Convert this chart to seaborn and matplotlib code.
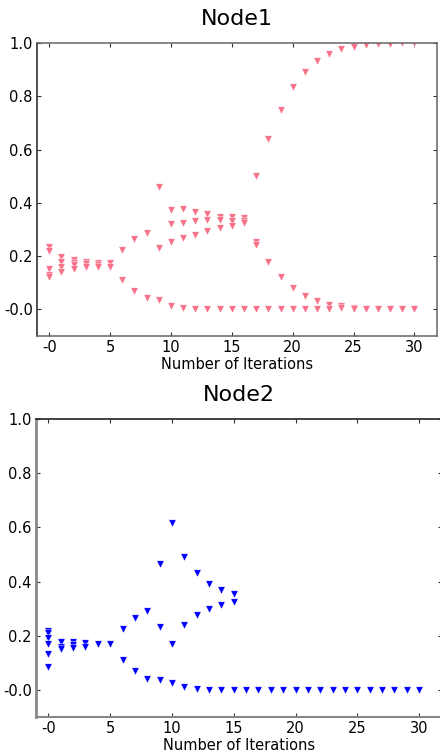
import numpy as np
import pandas as pd
import matplotlib
matplotlib.use("Agg")
import matplotlib.pyplot as plt
import seaborn as sns

nan = np.nan
iters = list(range(31))

# Node1 values per iteration (several series, nan where no point)
n1_a = [0.235, 0.198, 0.185, 0.178, 0.175, 0.175, 0.223, 0.263, 0.288, 0.461, 0.373,
        0.377, 0.365, 0.357, 0.348, 0.345, 0.342, 0.499, 0.639, 0.748, 0.835,
        0.892, 0.932, 0.959, 0.976, 0.986, 0.994, 0.996, 0.998, 0.999, 0.999]
n1_b = [0.220, 0.178, 0.175, 0.170, 0.165, 0.160, nan, nan, nan, 0.229, 0.321,
        0.323, 0.332, 0.336, 0.336, 0.330, 0.332, 0.253, 0.179, 0.123, 0.080,
        0.051, 0.032, 0.017, 0.011, 0.004, 0.002, 0.0, 0.0, 0.0, 0.0]
n1_c = [0.153, 0.160, 0.165, 0.160, 0.160, nan, nan, nan, nan, nan, 0.254,
        0.267, 0.281, 0.296, 0.307, 0.314, 0.323, 0.242, nan, nan, nan,
        nan, nan, nan, nan, nan, nan, nan, nan, nan, nan]
n1_d = [0.130, 0.141, 0.150, nan, nan, nan, 0.110, 0.069, 0.041, 0.035, 0.014,
        0.006, 0.002, 0.0, 0.0, 0.0, 0.0, 0.0, 0.0, 0.0, 0.0,
        0.0, 0.0, 0.0, 0.004, 0.0, 0.0, 0.0, 0.0, 0.0, 0.0]
n1_e = [0.120, nan, nan, nan, nan, nan, nan, nan, nan, nan, nan,
        nan, nan, nan, nan, nan, nan, nan, nan, nan, nan,
        nan, nan, nan, nan, nan, nan, nan, nan, nan, nan]

# Node2 values per iteration
n2_a = [0.218, 0.176, 0.176, 0.172, 0.169, 0.169, 0.224, 0.265, 0.292, 0.465, 0.616,
        0.492, 0.431, 0.392, 0.367, 0.355, nan, nan, nan, nan, nan,
        nan, nan, nan, nan, nan, nan, nan, nan, nan, nan]
n2_b = [0.209, 0.160, 0.167, 0.160, nan, nan, nan, nan, nan, 0.233, 0.170,
        0.240, 0.277, 0.300, 0.314, 0.324, nan, nan, nan, nan, nan,
        nan, nan, nan, nan, nan, nan, nan, nan, nan, nan]
n2_c = [0.191, 0.151, 0.156, nan, nan, nan, 0.111, 0.070, 0.041, 0.037, 0.025,
        0.010, 0.004, 0.0, 0.0, 0.0, 0.0, 0.0, 0.0, 0.0, 0.0,
        0.0, 0.0, 0.0, 0.0, 0.0, 0.0, 0.0, 0.0, 0.0, 0.0]
n2_d = [0.169, nan, nan, nan, nan, nan, nan, nan, nan, nan, nan,
        nan, nan, nan, nan, nan, nan, nan, nan, nan, nan,
        nan, nan, nan, nan, nan, nan, nan, nan, nan, nan]
n2_e = [0.132, nan, nan, nan, nan, nan, nan, nan, nan, nan, nan,
        nan, nan, nan, nan, nan, nan, nan, nan, nan, nan,
        nan, nan, nan, nan, nan, nan, nan, nan, nan, nan]
n2_f = [0.086, nan, nan, nan, nan, nan, nan, nan, nan, nan, nan,
        nan, nan, nan, nan, nan, nan, nan, nan, nan, nan,
        nan, nan, nan, nan, nan, nan, nan, nan, nan, nan]

xticks = [0, 5, 10, 15, 20, 25, 30]
xtick_labels = ["-0", "5", "10", "15", "20", "25", "30"]
yticks = [0.0, 0.2, 0.4, 0.6, 0.8, 1.0]
ytick_labels = ["-0.0", "0.2", "0.4", "0.6", "0.8", "1.0"]


def to_long(series):
    frames = [pd.DataFrame({"iteration": iters, "value": s}) for s in series]
    return pd.concat(frames).dropna()


sns.set_style("white")
plt.rcParams["font.family"] = ["DejaVu Sans"]

fig = plt.figure(figsize=(4.4, 7.56), dpi=100)
ax1 = fig.add_axes([37 / 440, 1 - 336 / 756, 400 / 440, 293 / 756])
ax2 = fig.add_axes([36 / 440, 1 - 717 / 756, 406 / 440, 298 / 756])

pink = sns.color_palette("husl", 8)[0]
sns.scatterplot(data=to_long([n1_a, n1_b, n1_c, n1_d, n1_e]), x="iteration", y="value",
                marker="v", s=28, color=pink, edgecolor="white", linewidth=0.3, ax=ax1)
sns.scatterplot(data=to_long([n2_a, n2_b, n2_c, n2_d, n2_e, n2_f]), x="iteration", y="value",
                marker="v", s=28, color="blue", edgecolor="white", linewidth=0.3, ax=ax2)

for ax, title in [(ax1, "Node1"), (ax2, "Node2")]:
    ax.set_xlim(-1, 31.85)
    ax.set_ylim(-0.1, 1.0)
    ax.set_xticks(xticks)
    ax.set_xticklabels(xtick_labels, fontsize=10.5)
    ax.set_yticks(yticks)
    ax.set_yticklabels(ytick_labels, fontsize=10.5)
    ax.set_xlabel("Number of Iterations", fontsize=10.5, labelpad=1, color="black")
    ax.set_ylabel("")
    ax.set_title(title, fontsize=16, pad=13, color="black")
    ax.tick_params(axis="both", which="both", direction="in", length=3, width=0.8,
                   top=True, right=True, bottom=True, left=True, pad=3, colors="#333333",
                   labelcolor="black")

for side in ["top", "right", "bottom"]:
    ax1.spines[side].set_color("#666666")
ax1.spines["left"].set_color("#222222")
for sp in ax1.spines.values():
    sp.set_linewidth(1.1)

ax2.spines["right"].set_visible(False)
ax2.spines["top"].set_color("#222222")
ax2.spines["top"].set_linewidth(1.2)
ax2.spines["left"].set_color("#888888")
ax2.spines["left"].set_linewidth(2)
ax2.spines["bottom"].set_color("#888888")
ax2.spines["bottom"].set_linewidth(1.5)

fig.savefig("out.png", dpi=100)
